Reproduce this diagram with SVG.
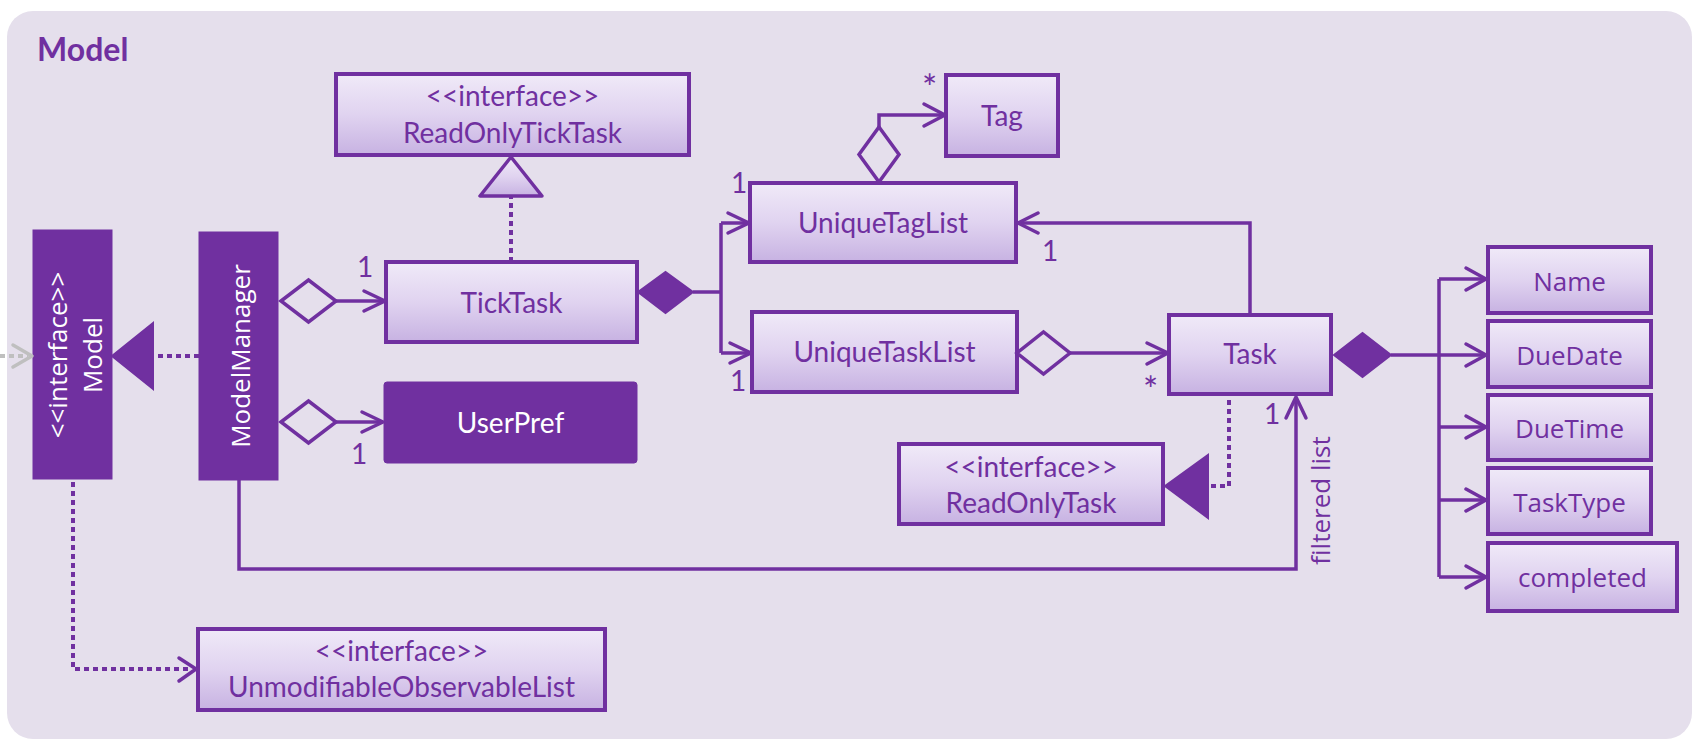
<svg xmlns="http://www.w3.org/2000/svg" width="1702" height="749" viewBox="0 0 1702 749">
<defs>
<linearGradient id="g" x1="0" y1="0" x2="0" y2="1">
<stop offset="0" stop-color="#F0EAF8"/>
<stop offset="0.5" stop-color="#E0D3F0"/>
<stop offset="1" stop-color="#C7B2E2"/>
</linearGradient>
<style>
.box{fill:url(#g);stroke:#7030A0;stroke-width:4}
.dark{fill:#7030A0;stroke:#7030A0;stroke-width:1}
.t{font-family:Lato,"Liberation Sans",sans-serif;font-size:28px;fill:#7030A0;text-anchor:middle}
.s{font-family:"Open Sans","DejaVu Sans",sans-serif;font-size:26px;fill:#7030A0;text-anchor:middle}
.w{fill:#FFFFFF}
.lbl{font-family:Lato,"Liberation Sans",sans-serif;font-size:28px;fill:#7030A0}
.ast{font-family:Lato,"Liberation Sans",sans-serif;font-size:36px;fill:#7030A0}
.ln{fill:none;stroke:#7030A0;stroke-width:3.5}
.dot{fill:none;stroke:#7030A0;stroke-width:4;stroke-dasharray:5 4}
.hd{fill:#E5DFEC;stroke:#7030A0;stroke-width:3.5;stroke-linejoin:miter}
.fd{fill:#7030A0;stroke:#7030A0;stroke-width:2}
.ar{fill:none;stroke:#7030A0;stroke-width:3.5;stroke-linecap:round;stroke-linejoin:round}
</style>
</defs>
<rect x="7" y="11" width="1685" height="728" rx="26" fill="#E5DFEC"/>
<text x="37" y="61" font-family="Lato,'Liberation Sans',sans-serif" font-size="32" font-weight="bold" fill="#7030A0">Model</text>

<g id="Model">
<rect x="33" y="230" width="79" height="249" class="dark"/>
<text transform="translate(67,355) rotate(-90)" class="s w">&lt;&lt;interface&gt;&gt;</text>
<text transform="translate(102,355) rotate(-90)" class="s w">Model</text>
</g>
<g id="ModelManager">
<rect x="199" y="232" width="79" height="248" class="dark"/>
<text transform="translate(250,356) rotate(-90)" class="s w">ModelManager</text>
</g>
<g id="ReadOnlyTickTask">
<rect x="336" y="74" width="353" height="81" class="box"/>
<text x="512.5" y="106" class="t">&lt;&lt;interface&gt;&gt;</text>
<text x="512.5" y="143" class="t">ReadOnlyTickTask</text>
</g>
<g id="TickTask">
<rect x="386" y="262" width="251" height="80" class="box"/>
<text x="511.5" y="313" class="t">TickTask</text>
</g>
<g id="UserPref">
<rect x="384" y="382" width="253" height="81" rx="3" class="dark"/>
<text x="510.5" y="433" class="t w">UserPref</text>
</g>
<g id="UniqueTagList">
<rect x="750" y="183" width="266" height="79" class="box"/>
<text x="883" y="233" class="t">UniqueTagList</text>
</g>
<g id="Tag">
<rect x="946" y="75" width="112" height="81" class="box"/>
<text x="1002" y="126" class="t">Tag</text>
</g>
<g id="UniqueTaskList">
<rect x="752" y="312" width="265" height="80" class="box"/>
<text x="884.5" y="362" class="t">UniqueTaskList</text>
</g>
<g id="Task">
<rect x="1169" y="315" width="162" height="79" class="box"/>
<text x="1250" y="364" class="t">Task</text>
</g>
<g id="ReadOnlyTask">
<rect x="899" y="444" width="264" height="80" class="box"/>
<text x="1031" y="477" class="t">&lt;&lt;interface&gt;&gt;</text>
<text x="1031" y="513" class="t">ReadOnlyTask</text>
</g>
<g id="UnmodifiableObservableList">
<rect x="198" y="629" width="407" height="81" class="box"/>
<text x="401.5" y="661" class="t">&lt;&lt;interface&gt;&gt;</text>
<text x="401.5" y="697" class="t">UnmodifiableObservableList</text>
</g>
<g id="Name">
<rect x="1488" y="247" width="163" height="66" class="box"/>
<text x="1569.5" y="291" class="s">Name</text>
</g>
<g id="DueDate">
<rect x="1488" y="321" width="163" height="66" class="box"/>
<text x="1569.5" y="365" class="s">DueDate</text>
</g>
<g id="DueTime">
<rect x="1488" y="395" width="163" height="65" class="box"/>
<text x="1569.5" y="438" class="s">DueTime</text>
</g>
<g id="TaskType">
<rect x="1488" y="468" width="163" height="66" class="box"/>
<text x="1569.5" y="512" class="s">TaskType</text>
</g>
<g id="completed">
<rect x="1488" y="543" width="189" height="68" class="box"/>
<text x="1582.5" y="587" class="s">completed</text>
</g>

<g id="connectors">
<line x1="0" y1="356" x2="28" y2="356" fill="none" stroke="#BFBFBF" stroke-width="4" stroke-dasharray="5 4"/>
<polyline points="13,345 32,356 13,367" fill="none" stroke="#BFBFBF" stroke-width="3.5" stroke-linecap="round" stroke-linejoin="round"/>
<line x1="199" y1="356" x2="153" y2="356" class="dot"/>
<polygon points="112,356 153,323 153,389" class="fd"/>
<line x1="336" y1="301" x2="385" y2="301" class="ln"/>
<polyline points="364,291 385,301 364,311" class="ar"/>
<polygon points="281,301 308.5,280 336,301 308.5,322" class="hd"/>
<text x="357" y="277" class="lbl">1</text>
<line x1="336" y1="422" x2="383" y2="422" class="ln"/>
<polyline points="362,412 383,422 362,432" class="ar"/>
<polygon points="281,422 308.5,401 336,422 308.5,443" class="hd"/>
<text x="351" y="464" class="lbl">1</text>
<path d="M73,482 V669 H192" class="dot"/>
<polyline points="179,658 196,669 179,681" class="ar"/>
<line x1="511" y1="262" x2="511" y2="197" class="dot"/>
<polygon points="511,157 480,196 542,196" fill="url(#g)" stroke="#7030A0" stroke-width="3.5" stroke-linejoin="round"/>
<path d="M693,292 H721 M721,223 V353 M721,223 H749 M721,353 H751" class="ln"/>
<polyline points="728,213 749,223 728,233" class="ar"/>
<polyline points="730,343 751,353 730,363" class="ar"/>
<polygon points="638,292 665.5,272 693,292 665.5,313" class="fd"/>
<text x="731" y="193" class="lbl">1</text>
<text x="730" y="391" class="lbl">1</text>
<path d="M879,127 V115 H945" class="ln"/>
<polyline points="924,104 945,115 924,126" class="ar"/>
<polygon points="879,127 899,154.5 879,182 859,154.5" class="hd"/>
<text x="922" y="101" class="ast">*</text>
<line x1="1070" y1="353" x2="1168" y2="353" class="ln"/>
<polyline points="1147,343 1168,353 1147,364" class="ar"/>
<polygon points="1017,353 1043.5,332 1070,353 1043.5,374" class="hd"/>
<text x="1143" y="403" class="ast">*</text>
<path d="M1250,315 V223 H1018" class="ln"/>
<polyline points="1038,213 1018,223 1038,233" class="ar"/>
<text x="1042" y="261" class="lbl">1</text>
<path d="M1229,400 V486 H1208" class="dot"/>
<polygon points="1165,486 1208,455 1208,518" class="fd"/>
<path d="M239,480 V569 H1296 V397" class="ln"/>
<polyline points="1286,418 1296,397 1306,418" class="ar"/>
<text x="1264" y="424" class="lbl">1</text>
<text transform="translate(1330,500.5) rotate(-90)" class="s">filtered list</text>
<path d="M1391,355 H1439 M1439,279 V577 M1439,279 H1485 M1439,355 H1485 M1439,427 H1485 M1439,500 H1485 M1439,577 H1485" class="ln"/>
<polyline points="1466,268 1486,279 1466,290" class="ar"/>
<polyline points="1466,344 1486,355 1466,366" class="ar"/>
<polyline points="1466,416 1486,427 1466,438" class="ar"/>
<polyline points="1466,489 1486,500 1466,511" class="ar"/>
<polyline points="1466,566 1486,577 1466,588" class="ar"/>
<polygon points="1334,355 1362.5,333 1391,355 1362.5,377" class="fd"/>
</g>
</svg>
